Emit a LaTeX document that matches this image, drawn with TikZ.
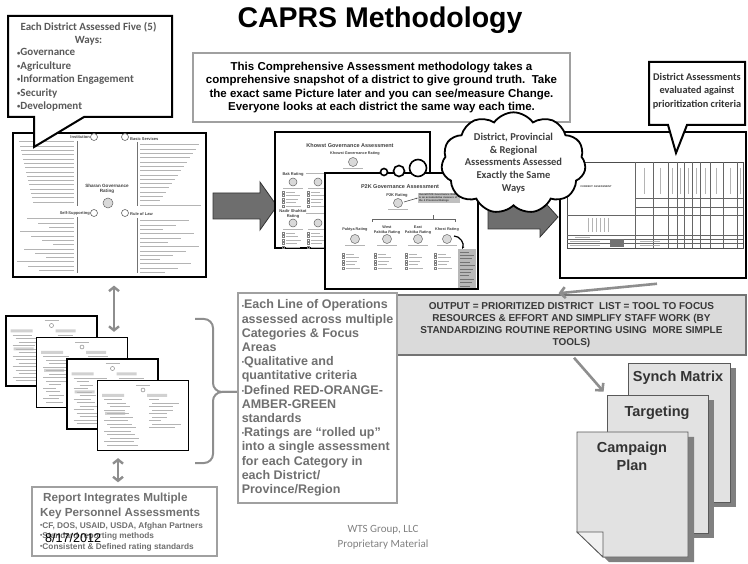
\documentclass[tikz,border=0pt]{standalone}
\usepackage{fontspec}
\setmainfont{Liberation Sans}
\newfontfamily\calib{Carlito}
\usetikzlibrary{arrows.meta, shapes.symbols, shadows}

\definecolor{txtgray}{HTML}{707070}
\definecolor{boxgray}{HTML}{A0A0A0}
\definecolor{arrowgray}{HTML}{8E8E8E}
\definecolor{blockgray}{HTML}{6E6E6E}
\definecolor{pagefill}{HTML}{E2E2E2}
\definecolor{outfill}{HTML}{DADADA}
\definecolor{inkgray}{HTML}{B4B4B4}

\newcommand{\fsz}[2]{\fontsize{#1}{#2}\selectfont}
\newcommand{\dotb}{\raisebox{.9pt}{\fsz{6.5}{6.5}•}}

\tikzset{
  callout/.style={draw=black, line width=2pt, fill=white, line join=miter},
  plainbox/.style={draw=boxgray, line width=1.4pt, fill=white, inner sep=0pt},
  shot/.style={draw=black, line width=1.2pt, fill=white, inner sep=0pt},
  bigarrow/.style={fill=blockgray, draw=black!80, line width=.8pt},
  grayarrow/.style={draw=arrowgray, line width=2.6pt, -{Straight Barb[length=5pt,width=11pt]}},
  dblarrow/.style={draw=arrowgray, line width=2.4pt, {Straight Barb[length=4pt,width=10pt]}-{Straight Barb[length=4pt,width=10pt]}},
  page/.style={draw=black!65, line width=.8pt, fill=pagefill, inner sep=0pt,
    drop shadow={shadow xshift=6pt, shadow yshift=-5pt, fill=black!50, opacity=1}},
  ink/.style={draw=inkgray, line width=1pt},
  shotlbl/.style={font=\fsz{4}{4.6}\bfseries, text=black!75, inner sep=0pt, align=center},
  bubble/.style={circle, draw=black, line width=1.6pt, fill=white, inner sep=0pt},
  rating/.style={draw=black!60, line width=.5pt, fill=black!15},
}

\begin{document}
\begin{tikzpicture}[x=1pt, y=-1pt]
\useasboundingbox (0,0) rectangle (748,564);

% Sharan mind map
\node (sharan) [shot, minimum width=193pt, minimum height=144pt] at (109.5,205) {};
\draw[black!55, line width=.5pt] (77,141) -- (77,206) (77,217) -- (77,273)
  (137,142) -- (137,206) (137,218) -- (137,273);
\foreach \y [count=\i] in {142,146.3,...,205} {
  \pgfmathsetmacro{\len}{18+mod(\i*37,38)}
  \draw[ink] ({74-\len},\y) -- (74,\y);
}
\foreach \y [count=\i] in {219,223.3,...,273} {
  \pgfmathsetmacro{\len}{18+mod(\i*29,40)}
  \draw[ink] ({74-\len},\y) -- (74,\y);
}
\foreach \y [count=\i] in {145,149.3,...,206} {
  \pgfmathsetmacro{\len}{18+mod(\i*41,44)}
  \draw[ink] (140,\y) -- ({140+\len},\y);
}
\foreach \y [count=\i] in {221,225.3,...,273} {
  \pgfmathsetmacro{\len}{18+mod(\i*31,44)}
  \draw[ink] (140,\y) -- ({140+\len},\y);
}
\node (inst) [shotlbl, anchor=east] at (90,137) {Institution};
\node (basic) [shotlbl, anchor=west] at (130,139) {Basic Services};
\node (selfsup) [shotlbl, anchor=east] at (90,213) {Self-Supporting};
\node (rol) [shotlbl, anchor=west] at (130,214) {Rule of Law};
\node (shrate) [shotlbl, font=\fsz{4.6}{5.4}\bfseries] at (107,189) {Sharan Governance\\Rating};
\draw[black!60, line width=.6pt, fill=white] (94,137) circle (3.5pt) (125,137) circle (3.5pt)
  (94,213) circle (3.5pt) (125,213) circle (3.5pt);
\draw[rating] (108,203) circle (5pt);

% five ways callout
\draw[callout] (8,16) -- (172,16) -- (172,117) -- (84,117) -- (34,147) -- (34,117) -- (8,117) -- cycle;
\node (wayshead) [align=center, text=black!65, font=\calib\fsz{11}{13.4}\bfseries] at (88.5,33.5)
  {Each District Assessed Five (5)\\Ways:};
\node (wayslist) [anchor=west, align=left, inner sep=0pt, text=black!65, font=\calib\fsz{11}{13.4}\bfseries] at (17,80)
  {\dotb Governance\\\dotb Agriculture\\\dotb Information Engagement\\\dotb Security\\\dotb Development};

\node (title) [font=\fsz{28.5}{30}\bfseries, anchor=base] at (380,28) {CAPRS Methodology};

\node (snap) [plainbox, minimum width=377pt, minimum height=69pt, align=center, font=\fsz{11.5}{13.5}\bfseries] at (381.5,87.5)
  {This Comprehensive Assessment methodology takes a\\
   comprehensive snapshot of a district to give ground truth.\ \ Take\\
   the exact same Picture later and you can see/measure Change.\\
   Everyone looks at each district the same way each time.};

\fill[bigarrow] (213,193) -- (260,193) -- (260,182) -- (277,206) -- (260,230) -- (260,219) -- (213,219) -- cycle;

% prioritization sheet
\node (sheet) [shot, line width=1.5pt, minimum width=186pt, minimum height=146pt] at (653,205) {};
\draw[black!70, line width=.5pt] (567,162) rectangle (743,248);
\foreach \x in {635,653,668,677,684,692,700,710,723,737}
  \draw[black!60, line width=.4pt] (\x,162) -- (\x,248);
\draw[black!60, line width=.4pt] (635,198) -- (743,198) (635,207) -- (743,207) (567,215) -- (743,215)
  (567,235) -- (743,235) (567,239) -- (743,239) (567,243.5) -- (743,243.5);
\foreach \x in {644,660,672,680,688,696,705,716,730,740}
  \draw[ink, line width=.8pt] (\x,168) -- (\x,194);
\foreach \x in {588,592,596,600,604,608}
  \draw[ink, line width=.8pt] (\x,218) -- (\x,232);
\node (cur) [shotlbl, font=\fsz{2.6}{3}\bfseries] at (596,187) {CURRENT ASSESSMENT};
\fill[black!55] (610,239.5) rectangle (624,247.5);
\draw[ink, line width=.7pt] (575,237) -- (590,237) (570,241) -- (600,241) (570,245.5) -- (600,245.5)
  (640,241) -- (660,241) (640,245.5) -- (660,245.5);

\fill[bigarrow] (488,205) -- (540,205) -- (540,197) -- (558,217) -- (540,237) -- (540,229) -- (488,229) -- cycle;

% Khowst assessment
\node (khowst) [shot, minimum width=155pt, minimum height=116pt] at (352.5,190) {};
\node (khtitle) [shotlbl, font=\fsz{5.5}{6}\bfseries] at (350,146) {Khowst Governance Assessment};
\node (khrate) [shotlbl, font=\fsz{3.8}{4.2}\bfseries] at (355,154) {Khowst Governance Rating};
\draw[rating] (353,162) circle (4.5pt);
\draw[ink, line width=.6pt] (343,168) -- (363,168);
\node (bak) [shotlbl] at (293,174) {Bak Rating};
\node (nadir) [shotlbl] at (293,214) {Nadir Shahkot\\Rating};
\draw[ink] (306,174) -- (330,174) (306,214) -- (330,214);
\foreach \cx in {293,318} {
  \draw[rating] (\cx,182) circle (4pt) (\cx,223) circle (4pt);
  \draw[ink, line width=.6pt] ({\cx-10},188) -- ({\cx+10},188) ({\cx-10},229) -- ({\cx+10},229);
  \foreach \k in {0,...,4} {
    \draw[black!50, line width=.3pt] ({\cx-11},{191+\k*3.5}) rectangle ++(2,2)
      ({\cx-11},{232+\k*3.5}) rectangle ++(2,2);
    \draw[ink, line width=.7pt] ({\cx-7},{192+\k*3.5}) -- ++({9+mod(\k*5,7)},0)
      ({\cx-7},{233+\k*3.5}) -- ++({9+mod(\k*3,7)},0);
  }
}

% P2K assessment
\node (ptk) [shot, minimum width=153pt, minimum height=116pt] at (401.5,231) {};
\node (ptktitle) [shotlbl, font=\fsz{5.5}{6}\bfseries] at (400,187) {P2K Governance Assessment};
\node (ptkrate) [shotlbl] at (397,195) {P2K Rating};
\draw[rating] (398,203) circle (4.5pt);
\draw[ink, line width=.6pt] (388,209) -- (408,209);
\node (ptknote) [fill=black!25, inner sep=1pt, text width=40pt, align=left, font=\fsz{2.6}{3.1}\bfseries, text=black!80] at (439,198)
  {Overall P2K Governance Rating is an accumulative measure of the 4 Provincial Ratings};
\draw[black!70, line width=.6pt, -{Stealth[length=2pt]}] (404,202) -- (ptknote.west);
\draw[black!60, line width=.5pt] (372,222) -- (372,219) -- (455,219) -- (455,222) (433,219) -- (433,215);
\foreach \cx/\lbl in {355/{Paktya Rating}, 387/{West\\Paktika Rating}, 418/{East\\Paktika Rating}, 447/{Khost Rating}} {
  \node [shotlbl, font=\fsz{3.8}{4.3}\bfseries] at (\cx,230) {\lbl};
  \draw[rating] (\cx,239) circle (4.5pt);
  \draw[ink, line width=.6pt] ({\cx-10},245) -- ({\cx+10},245);
  \foreach \k in {0,...,4} {
    \draw[black!50, line width=.3pt] ({\cx-13},{253+\k*3.5}) rectangle ++(2,2);
    \draw[ink, line width=.7pt] ({\cx-9},{254+\k*3.5}) -- ++({8+mod(\k*5,7)},0);
  }
}
\draw[black, line width=1.2pt, -{Stealth[length=3pt]}] (454,236) to[bend left=60] (462,249);
\fill[black!28] (458,249) rectangle (476,288);
\foreach \k in {0,...,10}
  \draw[black!55, line width=.7pt] (460,{252+\k*3.4}) -- ++({9+mod(\k*5,7)},0);

% thought bubbles and cloud
\node (b1) [bubble, minimum size=7pt] at (384,172) {};
\node (b2) [bubble, minimum size=11pt] at (399,171) {};
\node (b3) [bubble, minimum size=17pt] at (418,168) {};
\node (cloud) [cloud, cloud puffs=11, cloud puff arc=110, cloud ignores aspect, draw=black, line width=1.8pt, fill=white,
  minimum width=137pt, minimum height=90pt, inner sep=0pt, align=center, text=black!75,
  font=\calib\fsz{10.5}{12.7}\bfseries] at (513.5,163)
  {District, Provincial\\\& Regional\\Assessments Assessed\\Exactly the Same\\Ways};

\draw[callout] (649,62) -- (745,62) -- (745,125) -- (687,125) -- (676,153) -- (668,125) -- (649,125) -- cycle;
\node (criteria) [align=center, text=black!80, font=\calib\fsz{10.3}{13.8}\bfseries] at (697,91)
  {District Assessments\\evaluated against\\prioritization criteria};

% output
\node (out) [draw=black!55, line width=1.5pt, fill=outfill, minimum width=349pt, minimum height=60pt, inner sep=0pt,
  align=center, text=black!78, font=\fsz{10}{11.7}\bfseries] at (571.5,325)
  {OUTPUT = PRIORITIZED DISTRICT\ \ LIST = TOOL TO FOCUS\\
   RESOURCES \& EFFORT AND SIMPLIFY STAFF WORK (BY\\
   STANDARDIZING ROUTINE REPORTING USING\ \ MORE SIMPLE\\
   TOOLS)};
\draw[grayarrow] ([xshift=4pt,yshift=-5pt]sheet.south) -- ([xshift=-13pt,yshift=1pt]out.north);

% products
\node (synch) [page, minimum width=102pt, minimum height=139pt] at (679,432.5) {};
\node (tgt) [page, minimum width=101pt, minimum height=138pt] at (657.5,464) {};
\fill[black!50] (583,437) -- (694,437) -- (694,562) -- (609,562) -- (583,537) -- cycle;
\draw[black!65, line width=.8pt, fill=pagefill] (577,432) -- (688,432) -- (688,557) -- (603,557) -- (577,532) -- cycle;
\draw[black!65, line width=.8pt, fill=black!6] (577,532) -- (603,532) -- (603,557) -- cycle;
\node (synchlbl) [font=\fsz{14.5}{16}\bfseries, text=black!80] at (678,378) {Synch Matrix};
\node (tgtlbl) [font=\fsz{14.5}{16}\bfseries, text=black!80] at (657,413) {Targeting};
\node (camplbl) [align=center, font=\fsz{14.5}{18}\bfseries, text=black!80] at (632,456) {Campaign\\Plan};
\draw[grayarrow] ([xshift=2.5pt,yshift=-2pt]out.south) -- ([xshift=-3pt,yshift=3pt]tgt.north west);

% rating sheets
\foreach \n in {1,...,4} {
  \pgfmathsetmacro{\cx}{51.5+30.5*(\n-1)}
  \pgfmathsetmacro{\cy}{351+21.5*(\n-1)}
  \node (doc\n) [shot, minimum width=91pt, minimum height=70pt] at (\cx,\cy) {};
  \draw[ink] ({\cx-7},{\cy-30}) -- ({\cx+7},{\cy-30});
  \draw[black!55, line width=.4pt] (\cx,{\cy-25.5}) circle (2pt);
  \fill[black!18] ({\cx-41},{\cy-21.5}) rectangle ++(22,3) ({\cx+4},{\cy-21.5}) rectangle ++(20,3)
    ({\cx-38},{\cy-3.5}) rectangle ++(20,3);
  \foreach \k in {0,...,13} {
    \pgfmathsetmacro{\len}{12+mod(\k*23+\n*7,22)}
    \draw[ink, line width=.8pt] ({\cx-39+mod(\k,3)*3},{\cy-16+\k*3.5}) -- ++(\len,0);
  }
  \foreach \k in {0,...,8} {
    \pgfmathsetmacro{\len}{10+mod(\k*17+\n*5,20)}
    \draw[ink, line width=.8pt] ({\cx+6+mod(\k,2)*3},{\cy-16+\k*3.5}) -- ++(\len,0);
  }
}

\node (report) [plainbox, minimum width=185pt, minimum height=69pt] at (124.5,521.5) {};
\draw[dblarrow] ([xshift=4.5pt,yshift=-8pt]sharan.south) -- ([xshift=32pt,yshift=5pt]doc2.north);
\draw[dblarrow] ([xshift=-25pt,yshift=-7pt]doc4.south) -- ([xshift=-6.5pt,yshift=4pt]report.north);

\draw[draw=arrowgray, line width=2pt, rounded corners=9pt] (195,319) -- (213,319) -- (213,392) -- (238,392);
\draw[draw=arrowgray, line width=2pt, rounded corners=9pt] (195,463) -- (213,463) -- (213,392) -- (238,392);

\node (crit) [plainbox, minimum width=159pt, minimum height=210pt, align=left, text=txtgray,
  font=\fsz{12.5}{14.2}\bfseries] at (317.5,398)
  {\dotb Each Line of Operations\\assessed across multiple\\Categories \& Focus\\Areas\\
   \dotb Qualitative and\\quantitative criteria\\\dotb Defined RED-ORANGE-\\AMBER-GREEN\\standards\\
   \dotb Ratings are “rolled up”\\into a single assessment\\for each Category in\\each District/\\Province/Region};

\node (rephead) [anchor=west, align=left, inner sep=0pt, text=txtgray, font=\fsz{11.7}{15}\bfseries] at (40,505.5)
  {\hspace{3pt}Report Integrates Multiple\\Key Personnel Assessments};
\node (replist) [anchor=west, align=left, inner sep=0pt, text=txtgray, font=\fsz{8.3}{10.5}\bfseries] at (40,536.5)
  {\dotb CF, DOS, USAID, USDA, Afghan Partners\\\dotb Standard reporting methods\\\dotb Consistent \& Defined rating standards};
\node (date) [anchor=west, inner sep=0pt, font=\fsz{12.6}{14}] at (45,538) {8/17/2012};

\node (wts) [align=center, text=black!50, font=\calib\fsz{11}{15}] at (383,537.5) {WTS Group, LLC\\Proprietary Material};
\end{tikzpicture}
\end{document}
